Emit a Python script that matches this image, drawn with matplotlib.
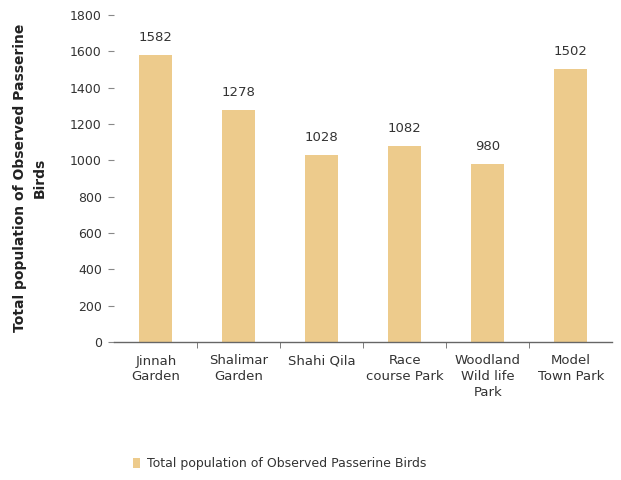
import matplotlib
matplotlib.use("Agg")
import matplotlib.pyplot as plt
import numpy as np

# ── Data ──────────────────────────────────────────────────────────────
sites = ["Jinnah\nGarden", "Shalimar\nGarden", "Shahi Qila", "Race\ncourse Park",
         "Woodland\nWild life\nPark", "Model\nTown Park"]
birds = [1582, 1278, 1028, 1082, 980, 1502]
yticks = [0, 200, 400, 600, 800, 1000, 1200, 1400, 1600, 1800]

BAR = "#EDCB8C"
TXT = "#333333"

fig = plt.figure(figsize=(6.21, 4.80), dpi=100)
ax = fig.add_axes([0.184, 0.2875, 0.802, 0.681])

x = np.arange(len(sites))
ax.bar(x, birds, width=0.4, color=BAR, edgecolor="none",
       label="Total population of Observed Passerine Birds")

for xi, v in zip(x, birds):
    ax.text(xi, v + 60, str(v), ha="center", va="bottom", fontsize=9.5, color=TXT)

ax.set_xlim(-0.5, len(sites) - 0.5)
ax.set_ylim(0, 1800)
ax.set_yticks(yticks)
ax.set_yticklabels([str(t) for t in yticks], fontsize=9, color=TXT)

# category labels centred, tick marks between categories
ax.set_xticks(x)
ax.set_xticklabels(sites, fontsize=9.5, color=TXT, linespacing=1.25)
ax.tick_params(axis="x", length=0, pad=9)
ax.set_xticks(np.arange(0.5, len(sites) - 0.5), minor=True)
ax.tick_params(axis="x", which="minor", length=4, color="#666666", direction="out")
ax.tick_params(axis="y", length=4, color="#888888", pad=5)

for s in ["top", "right", "left"]:
    ax.spines[s].set_visible(False)
ax.spines["bottom"].set_color("#666666")
ax.spines["bottom"].set_linewidth(1.0)

fig.text(0.048, 0.63, "Total population of Observed Passerine\nBirds",
         rotation=90, ha="center", va="center", fontsize=10,
         fontweight="bold", color="#222222", linespacing=1.6)

fig.legend(loc="center", bbox_to_anchor=(0.45, 0.034), frameon=False,
           fontsize=9, handlelength=0.6, handleheight=0.8, handletextpad=0.5,
           labelcolor=TXT)

fig.savefig("out.png", dpi=100, facecolor="white")
plt.close(fig)
